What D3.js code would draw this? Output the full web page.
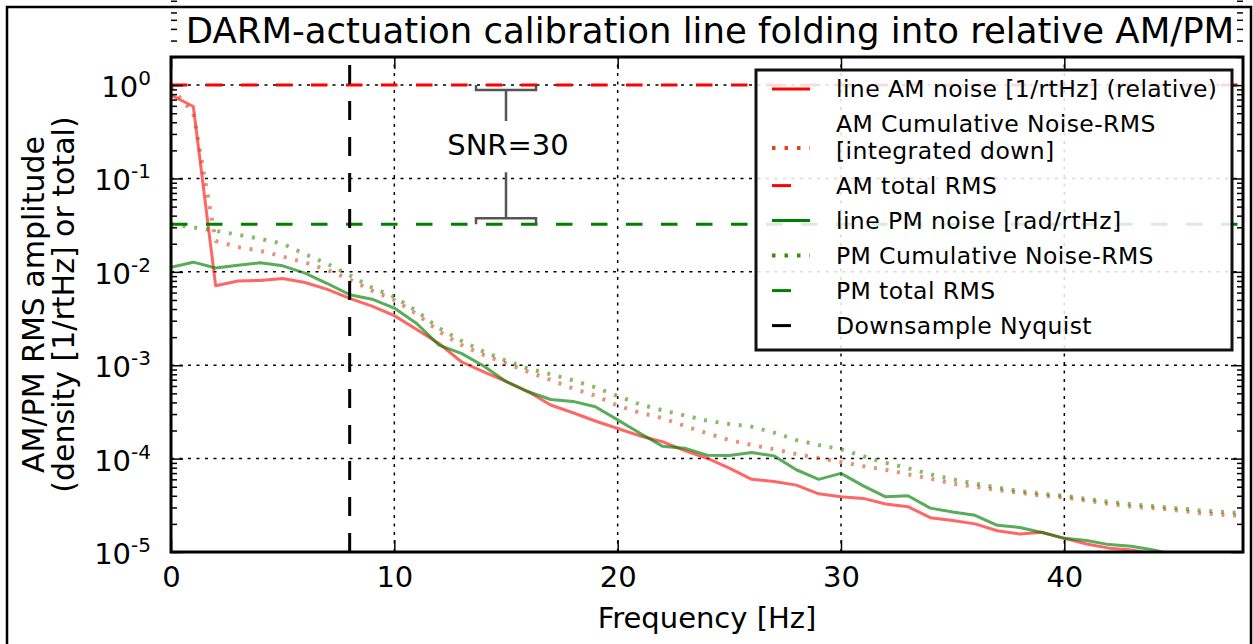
<!DOCTYPE html>
<meta charset="utf-8">
<style>
    body { margin: 0; background: #fff; }
    svg { font-family: "DejaVu Sans", sans-serif; }
    .tick line { stroke: #000; stroke-width: 1.5; }
</style>
<svg width="1253" height="644"></svg>
<script src="https://d3js.org/d3.v7.min.js"></script>
<script>

    // frequency bins [Hz]
    var freqs = [0,1,2,3,4,5,6,7,8,9,10,11,12,13,14,15,16,17,18,19,20,21,22,23,24,
        25,26,27,28,29,30,31,32,33,34,35,36,37,38,39,40,41,42,43,44,45,46,47,48];

    // line AM noise [1/rtHz] (relative)
    var amLine = [0.78,0.59,0.0071,0.0080,0.0081,0.0085,0.0077,0.0065,0.0052,0.0043,
        0.0034,0.00242,0.00171,0.00109,0.00085,0.00067,0.00052,0.000375,0.00031,0.000253,
        0.00021,0.000175,0.000152,0.000122,0.000101,7.9e-5,6.0e-5,5.7e-5,5.2e-5,4.2e-5,
        3.9e-5,3.75e-5,3.27e-5,3.06e-5,2.33e-5,2.17e-5,2.0e-5,1.69e-5,1.56e-5,1.63e-5,
        1.4e-5,1.22e-5,1.1e-5,1.05e-5,9.6e-6,8.8e-6,8.2e-6,7.6e-6,7.2e-6];

    // AM cumulative noise RMS (integrated down)
    var amCum = [0.95,0.50,0.0214,0.0184,0.0168,0.0146,0.0126,0.0105,0.0083,0.0063,
        0.0050,0.00353,0.0023,0.00165,0.00129,0.00105,0.00085,0.000695,0.000565,0.000472,
        0.00037,0.00031,0.000272,0.000223,0.000187,0.000158,0.00014,0.000126,0.000112,0.000101,
        9.2e-5,8.3e-5,7.6e-5,6.8e-5,6.1e-5,5.4e-5,5.0e-5,4.6e-5,4.3e-5,4.0e-5,
        3.85e-5,3.55e-5,3.27e-5,3.06e-5,2.94e-5,2.8e-5,2.62e-5,2.51e-5,2.43e-5];

    // line PM noise [rad/rtHz]
    var pmLine = [0.0112,0.0127,0.0110,0.0118,0.0125,0.0116,0.0097,0.0075,0.0057,0.0051,
        0.0041,0.0028,0.00164,0.00134,0.00098,0.00067,0.00052,0.00043,0.00041,0.00036,
        0.00026,0.000187,0.000136,0.000129,0.000109,0.000108,0.000116,0.000107,7.6e-5,6.0e-5,
        6.95e-5,5.1e-5,3.9e-5,4.0e-5,2.95e-5,2.68e-5,2.47e-5,1.93e-5,1.83e-5,1.62e-5,
        1.4e-5,1.33e-5,1.2e-5,1.15e-5,1.05e-5,9.2e-6,8.6e-6,8.1e-6,7.7e-6];

    // PM cumulative noise RMS
    var pmCum = [0.0323,0.0300,0.0275,0.0250,0.0226,0.0200,0.0155,0.0122,0.0092,0.0068,
        0.0054,0.0038,0.0025,0.00183,0.0014,0.00112,0.00092,0.0008,0.00069,0.00058,
        0.00047,0.00038,0.00033,0.00029,0.000255,0.000235,0.00022,0.00019,0.000158,0.00014,
        0.000126,0.000106,9.0e-5,7.9e-5,6.8e-5,6.0e-5,5.4e-5,4.9e-5,4.5e-5,4.2e-5,
        4.0e-5,3.7e-5,3.45e-5,3.25e-5,3.1e-5,2.95e-5,2.8e-5,2.7e-5,2.6e-5];

    var amTotal = 1.0;
    var pmTotal = 0.0323;
    var nyquist = 8;
    var snrLabel = "SNR=30";
    var snrFreq = 15;

    var xTicks = [0,10,20,30,40];
    var yTicks = [1e-5,1e-4,1e-3,1e-2,1e-1,1];
    var yTickExp = ["-5","-4","-3","-2","-1","0"];

    var legendLabels = [
        ["line AM noise [1/rtHz] (relative)"],
        ["AM Cumulative Noise-RMS", "[integrated down]"],
        ["AM total RMS"],
        ["line PM noise [rad/rtHz]"],
        ["PM Cumulative Noise-RMS"],
        ["PM total RMS"],
        ["Downsample Nyquist"]
    ];

    var svg = d3.select("svg"),
        margin = {top: 57, right: 10, bottom: 92, left: 171},
        W = +svg.attr("width"), H = +svg.attr("height");

    var x = d3.scaleLinear().domain([0, 48]).range([margin.left, W - margin.right]);
    var y = d3.scaleLog().domain([1e-5, 2]).range([H - margin.bottom, margin.top]);

    var dash = "16.5,18.5", dots = "3,8.7";
    var styles = [
        {color: "#ff0000", dash: null, width: 3, op: 0.6},
        {color: "#d8481c", dash: dots, width: 4, op: 0.6},
        {color: "#ff0000", dash: dash, width: 3, op: 1},
        {color: "#008000", dash: null, width: 3, op: 0.65},
        {color: "#3a8c00", dash: dots, width: 4, op: 0.6},
        {color: "#008000", dash: dash, width: 3, op: 1},
        {color: "#000000", dash: "19,17", width: 3, op: 1}
    ];

    svg.append("rect").attr("width", W).attr("height", H).attr("fill", "#fff");

    // outer figure frame
    svg.append("path").attr("d", "M7,650V7H1251V650")
        .attr("fill", "none").attr("stroke", "#000").attr("stroke-width", 2.5);

    svg.append("text").attr("x", 710).attr("y", 43).attr("text-anchor", "middle")
        .attr("font-size", 35.5)
        .text("DARM-actuation calibration line folding into relative AM/PM");

    svg.append("defs").append("clipPath").attr("id", "clip").append("rect")
        .attr("x", x(0)).attr("y", y(2)).attr("width", x(48) - x(0)).attr("height", y(1e-5) - y(2));

    // grid
    var grid = svg.append("g").attr("stroke", "#000").attr("stroke-width", 1.5).attr("stroke-dasharray", "3,5.5");
    xTicks.slice(1).forEach(function(d) {
        grid.append("line").attr("x1", x(d)).attr("x2", x(d)).attr("y1", y(1e-5)).attr("y2", y(2));
    });
    yTicks.slice(1).forEach(function(d) {
        grid.append("line").attr("x1", x(0)).attr("x2", x(48)).attr("y1", y(d)).attr("y2", y(d));
    });

    var plot = svg.append("g").attr("clip-path", "url(#clip)");
    var line = d3.line().x(function(d, i) { return x(freqs[i]); }).y(function(d) { return y(d); });

    function drawPath(data, s) {
        plot.append("path").datum(data).attr("d", line).attr("fill", "none")
            .attr("stroke", s.color).attr("stroke-width", s.width).attr("stroke-opacity", s.op)
            .attr("stroke-dasharray", s.dash).attr("stroke-linejoin", "round");
    }
    function hline(v, s) {
        plot.append("line").attr("x1", x(0)).attr("x2", x(48)).attr("y1", y(v)).attr("y2", y(v))
            .attr("stroke", s.color).attr("stroke-width", s.width).attr("stroke-dasharray", s.dash);
    }
    drawPath(amLine, styles[0]);
    drawPath(amCum, styles[1]);
    hline(amTotal, styles[2]);
    drawPath(pmLine, styles[3]);
    drawPath(pmCum, styles[4]);
    hline(pmTotal, styles[5]);
    plot.append("line").attr("x1", x(nyquist)).attr("x2", x(nyquist)).attr("y1", y(1e-5)).attr("y2", y(2))
        .attr("stroke", "#000").attr("stroke-width", 3).attr("stroke-dasharray", styles[6].dash);

    // SNR bracket annotation
    var sx = x(snrFreq), yA = y(amTotal), yP = y(pmTotal), ann = svg.append("g")
        .attr("stroke", "#555").attr("stroke-width", 2.5).attr("fill", "none");
    ann.append("path").attr("d", "M" + (sx - 30) + "," + yA + "V" + (yA + 5) + "H" + (sx + 30) + "V" + yA +
        "M" + sx + "," + (yA + 5) + "V" + (yA + 36));
    ann.append("path").attr("d", "M" + (sx - 30) + "," + yP + "V" + (yP - 6) + "H" + (sx + 30) + "V" + yP +
        "M" + sx + "," + (yP - 6) + "V" + (yP - 52));
    svg.append("text").attr("x", sx + 2).attr("y", yA + 70).attr("text-anchor", "middle")
        .attr("font-size", 29).text(snrLabel);

    // axes (ticks inward on all sides)
    var minor = [];
    for (var e = -5; e < 1; e++) for (var m = 2; m < 10; m++) minor.push(m * Math.pow(10, e));
    function noDomain(g) { g.select(".domain").remove(); }

    svg.append("g").attr("transform", "translate(0," + y(1e-5) + ")")
        .call(d3.axisBottom(x).tickValues(xTicks).tickSize(-12).tickPadding(14))
        .call(noDomain).selectAll("text").attr("font-size", 29).attr("font-family", "DejaVu Sans").attr("fill", "#000");
    svg.append("g").attr("transform", "translate(0," + y(2) + ")")
        .call(d3.axisTop(x).tickValues(xTicks).tickSize(-12).tickFormat("")).call(noDomain);
    [[d3.axisLeft, x(0)], [d3.axisRight, x(48)]].forEach(function(a) {
        svg.append("g").attr("transform", "translate(" + a[1] + ",0)")
            .call(a[0](y).tickValues(yTicks).tickSize(-12).tickFormat("")).call(noDomain);
        svg.append("g").attr("transform", "translate(" + a[1] + ",0)")
            .call(a[0](y).tickValues(minor).tickSize(-6).tickFormat("")).call(noDomain);
    });

    var yl = svg.append("g").selectAll("text").data(yTicks).enter().append("text")
        .attr("x", x(0) - 20).attr("y", d => y(d) + 12).attr("text-anchor", "end").attr("font-size", 29);
    yl.append("tspan").text("10");
    yl.append("tspan").attr("font-size", 20).attr("dy", -12).text((d, i) => yTickExp[i]);

    svg.append("rect").attr("x", x(0)).attr("y", y(2)).attr("width", x(48) - x(0)).attr("height", y(1e-5) - y(2))
        .attr("fill", "none").attr("stroke", "#000").attr("stroke-width", 3);

    svg.append("text").attr("x", (x(0) + x(48)) / 2).attr("y", 628).attr("text-anchor", "middle")
        .attr("font-size", 29).text("Frequency [Hz]");
    var ym = (y(2) + y(1e-5)) / 2;
    svg.append("text").attr("transform", "translate(44," + ym + ") rotate(-90)").attr("text-anchor", "middle")
        .attr("font-size", 30).text("AM/PM RMS amplitude");
    svg.append("text").attr("transform", "translate(74," + ym + ") rotate(-90)").attr("text-anchor", "middle")
        .attr("font-size", 30).text("(density [1/rtHz] or total)");

    // legend
    var lg = svg.append("g").attr("transform", "translate(756,70)");
    lg.append("rect").attr("width", 476).attr("height", 280).attr("fill", "#fff").attr("fill-opacity", 0.85)
        .attr("stroke", "#111").attr("stroke-width", 3);
    var base = 27;
    legendLabels.forEach(function(lines, i) {
        var s = styles[i];
        var hy = base - 8 + (lines.length - 1) * 24;
        lg.append("line").attr("x1", 16).attr("x2", 54).attr("y1", hy).attr("y2", hy)
            .attr("stroke", s.color).attr("stroke-width", s.dash === dots ? 4 : 3)
            .attr("stroke-dasharray", s.dash === dots ? "3.5,9" : (s.dash ? "19,40" : null));
        lines.forEach(function(t, j) {
            lg.append("text").attr("x", 80).attr("y", base + j * 26.6)
                .attr("font-size", 23.5).attr("letter-spacing", 0.4).text(t);
        });
        base += 35 + (lines.length - 1) * 26.6;
    });

</script>
